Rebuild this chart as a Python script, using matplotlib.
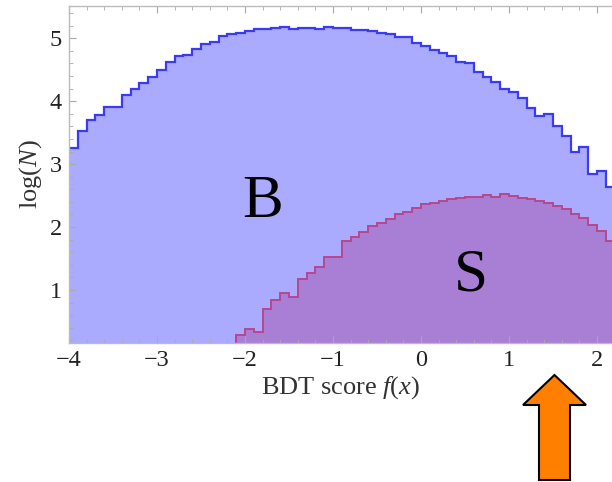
import numpy as np
import matplotlib
matplotlib.use("Agg")
import matplotlib.pyplot as plt
from matplotlib.patches import FancyArrow
from matplotlib.ticker import MultipleLocator

plt.rcParams['font.family'] = ['Liberation Serif', 'DejaVu Serif']
plt.rcParams['mathtext.fontset'] = 'custom'
plt.rcParams['mathtext.rm'] = 'Liberation Serif'
plt.rcParams['mathtext.it'] = 'Liberation Serif:italic'

# ---- data ----
bin_start = -4.0
bin_width = 0.1
background = [3.25, 3.52, 3.70, 3.78, 3.91, 3.91, 4.09, 4.19, 4.28, 4.39,
              4.49, 4.62, 4.71, 4.74, 4.82, 4.90, 4.94, 5.03, 5.06, 5.08,
              5.11, 5.15, 5.14, 5.16, 5.18, 5.15, 5.16, 5.16, 5.15, 5.18,
              5.16, 5.16, 5.13, 5.13, 5.11, 5.08, 5.06, 5.02, 5.02, 4.93,
              4.87, 4.81, 4.77, 4.72, 4.62, 4.60, 4.47, 4.39, 4.30, 4.20,
              4.14, 4.05, 3.89, 3.77, 3.79, 3.60, 3.45, 3.19, 3.27, 2.85,
              2.89, 2.63]
signal_start = -2.1
signal = [0.29, 0.39, 0.34, 0.70, 0.85, 0.95, 0.885, 1.18, 1.27, 1.36,
          1.52, 1.52, 1.78, 1.84, 1.93, 2.02, 2.07, 2.13, 2.21, 2.24,
          2.30, 2.365, 2.39, 2.42, 2.45, 2.46, 2.475, 2.475, 2.51, 2.485,
          2.52, 2.50, 2.46, 2.44, 2.42, 2.38, 2.34, 2.28, 2.21, 2.14,
          2.04, 1.94, 1.78]
xticks = [-4, -3, -2, -1, 0, 1, 2]
yticks = [1, 2, 3, 4, 5]

b_edges = bin_start + bin_width * np.arange(len(background) + 1)
s_edges = signal_start + bin_width * np.arange(len(signal) + 1)

fig = plt.figure(figsize=(6.12, 4.82), dpi=100)
ax = fig.add_axes([69/612, 1 - 343/482, 1 - 69/612, (343 - 6)/482])

ax.stairs(background, b_edges, baseline=0, fill=True, color='#AAAAFF', lw=0)
ax.stairs(background, b_edges, baseline=None, color='#3B3BF5', lw=1.6)
ax.stairs(signal, s_edges, baseline=0, fill=True, color='#A97ED5', lw=0)
ax.stairs(signal, s_edges, baseline=0, color='#B8468F', lw=1.4)

ax.set_xlim(-4, 2.17)
ax.set_ylim(0.16, 5.51)
ax.set_xticks(xticks)
ax.set_yticks(yticks)
ax.xaxis.set_minor_locator(MultipleLocator(0.2))
ax.yaxis.set_minor_locator(MultipleLocator(0.2))
ax.tick_params(which='both', direction='in', top=True, right=False,
               color='#AAAAAA', labelcolor='#222222', labelsize=17.5)
ax.tick_params(which='major', length=5, width=0.8)
ax.tick_params(which='minor', length=3, width=0.6)
ax.tick_params(axis='x', pad=5)
ax.tick_params(axis='y', pad=5)
for side in ['left', 'top', 'bottom']:
    ax.spines[side].set_color('#BBBBBB')
    ax.spines[side].set_linewidth(1.0)
ax.spines['right'].set_visible(False)

ax.set_xlabel('BDT score $f(x)$', fontsize=19, color='#333333', labelpad=2)
ax.set_ylabel('log($N$)', fontsize=19, color='#333333', labelpad=4)

ax.text(-1.80, 2.40, 'B', fontsize=44, ha='center', va='center', color='black')
ax.text(0.57, 1.22, 'S', fontsize=44, ha='center', va='center', color='black')

arrow = FancyArrow(5.545, 0.02, 0, 1.05, width=0.31, head_width=0.63,
                   head_length=0.30, length_includes_head=True,
                   transform=fig.dpi_scale_trans, fc='#FF7F00', ec='black',
                   lw=1.5, clip_on=False)
fig.add_artist(arrow)

fig.savefig('out.png', dpi=100)
